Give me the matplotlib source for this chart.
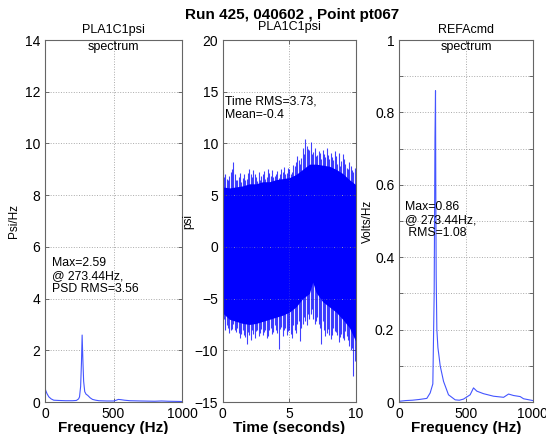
import matplotlib
matplotlib.use("Agg")
import matplotlib.pyplot as plt
import numpy as np

plt.rcParams['font.family'] = ['Liberation Sans', 'DejaVu Sans']

# left panel: PLA1C1psi spectrum (Psi/Hz)
psd1_freq = [0, 5, 15, 28, 45, 64, 100, 150, 200, 229, 245, 252, 260, 266, 271,
             276, 282, 290, 300, 311, 330, 347, 370, 394, 450, 500, 520, 535,
             555, 580, 620, 700, 800, 850, 900, 1000]
psd1_val = [0.56, 0.45, 0.32, 0.2, 0.12, 0.07, 0.06, 0.05, 0.05, 0.06, 0.12, 0.2,
            0.6, 1.5, 2.59, 1.7, 0.8, 0.4, 0.3, 0.26, 0.16, 0.1, 0.07, 0.05,
            0.04, 0.04, 0.07, 0.1, 0.09, 0.07, 0.05, 0.04, 0.03, 0.04, 0.03, 0.02]

# right panel: REFAcmd spectrum (Volts/Hz)
psd2_freq = [0, 50, 100, 150, 207, 232, 252, 262, 268, 272, 274, 277, 282, 290,
             297, 307, 332, 369, 419, 450, 481, 531, 556, 581, 631, 706, 781,
             818, 855, 905, 930, 1000]
psd2_val = [0.002, 0.004, 0.005, 0.007, 0.01, 0.025, 0.05, 0.3, 0.73, 0.86, 0.6,
            0.35, 0.2, 0.15, 0.13, 0.1, 0.057, 0.02, 0.006, 0.005, 0.008, 0.02,
            0.039, 0.03, 0.023, 0.016, 0.013, 0.022, 0.018, 0.015, 0.009, 0.004]

# middle panel: PLA1C1psi time history, read as envelopes
t_core = [0, 0.5, 1, 1.5, 2, 2.5, 3, 3.5, 4, 4.5, 5, 5.5, 6, 6.5, 6.75, 7, 7.5,
          8, 8.5, 9, 9.5, 10]
hi_core = [5.8, 5.7, 5.8, 5.9, 6.1, 6.1, 6.3, 6.3, 6.5, 6.6, 6.7, 7.0, 7.5, 8.0,
           8.0, 8.0, 7.9, 7.8, 7.5, 7.1, 6.5, 6.0]
lo_core = [-6.4, -7.0, -7.2, -7.4, -7.5, -7.4, -7.2, -7.0, -6.8, -6.6, -6.3, -5.8,
           -5.0, -4.5, -3.4, -4.4, -5.3, -5.8, -6.3, -7.0, -7.8, -9.2]

t_spk = [0, 0.2, 0.4, 0.6, 0.8, 1.0, 1.2, 1.4, 1.6, 1.8, 2.0, 2.2, 2.4, 2.6, 2.8,
         3.0, 3.2, 3.4, 3.6, 3.8, 4.0, 4.2, 4.4, 4.6, 4.8, 5.0, 5.2, 5.4, 5.6,
         5.8, 6.0, 6.2, 6.4, 6.6, 6.8, 7.0, 7.2, 7.4, 7.6, 7.8, 8.0, 8.2, 8.4,
         8.6, 8.8, 9.0, 9.2, 9.4, 9.6, 9.8, 10.0]
hi_spk = [7.4, 7.0, 6.5, 7.2, 8.2, 6.5, 6.8, 6.3, 7.0, 6.6, 7.5, 6.8, 7.0, 6.4,
          6.5, 7.0, 6.6, 7.5, 6.9, 6.8, 7.0, 6.7, 7.5, 7.7, 7.1, 7.5, 7.2, 7.8,
          8.8, 8.0, 9.6, 10.4, 9.5, 10.1, 9.2, 8.8, 9.3, 8.5, 9.0, 9.6, 8.5,
          8.7, 9.3, 8.0, 7.8, 9.0, 8.0, 7.5, 7.8, 7.2, 6.8]
lo_spk = [-7.5, -8.0, -7.8, -8.0, -7.5, -8.2, -8.3, -8.4, -8.5, -9.4, -8.5, -8.0,
          -8.8, -8.0, -8.3, -8.5, -8.0, -8.6, -7.8, -8.2, -8.0, -9.9, -7.7, -8.0,
          -8.5, -8.0, -8.8, -8.0, -7.5, -9.1, -7.5, -7.2, -6.5, -6.5, -7.0, -7.2,
          -7.5, -9.4, -8.0, -8.3, -8.5, -8.5, -8.1, -8.5, -8.7, -8.8, -8.1, -9.0,
          -10.0, -12.5, -10.0]

t_spk2 = [0.1, 0.3, 0.5, 0.7, 0.9, 1.1, 1.3, 1.5, 1.7, 1.9, 2.1, 2.3, 2.5, 2.7,
          2.9, 3.1, 3.3, 3.5, 3.7, 3.9, 4.1, 4.3, 4.5, 4.7, 4.9, 5.1, 5.3, 5.5,
          5.7, 5.9, 6.1, 6.3, 6.5, 6.7, 6.9, 7.1, 7.3, 7.5, 7.7, 7.9, 8.1, 8.3,
          8.5, 8.7, 8.9, 9.1, 9.3, 9.5, 9.7, 9.9]
hi_spk2 = [6.8, 6.6, 6.9, 7.5, 7.0, 6.5, 7.1, 6.7, 6.5, 7.1, 7.0, 7.4, 6.8, 7.2,
           6.9, 7.3, 6.8, 7.1, 7.4, 6.9, 7.3, 7.0, 7.2, 7.0, 7.6, 7.0, 7.9, 8.2,
           8.4, 8.6, 9.0, 9.8, 9.4, 9.0, 9.6, 8.9, 9.1, 9.4, 8.7, 8.9, 9.1, 8.4,
           8.8, 9.1, 8.3, 8.5, 7.6, 8.2, 7.4, 7.6]
lo_spk2 = [-7.0, -7.6, -8.3, -7.9, -8.0, -7.8, -8.8, -8.0, -8.7, -8.2, -9.0, -8.4,
           -8.1, -8.6, -7.9, -8.2, -8.8, -8.0, -8.4, -7.6, -8.3, -7.9, -8.6, -7.8,
           -8.1, -8.4, -7.6, -8.3, -7.2, -7.8, -6.8, -7.6, -7.0, -6.0, -7.5, -6.8,
           -7.8, -7.2, -8.6, -7.9, -8.9, -7.8, -8.2, -9.2, -8.4, -9.0, -8.6, -9.6,
           -9.8, -11.0]

fig = plt.figure(figsize=(5.46, 4.34), dpi=100)
fig.text(0.535, 0.966, "Run 425, 040602 , Point pt067", ha='center', va='center',
         fontsize=11, fontweight='bold')

H = 0.834
B = 0.0737
ax1 = fig.add_axes([0.0824, B, 0.251, H])
ax2 = fig.add_axes([0.408, B, 0.244, H])
ax3 = fig.add_axes([0.731, B, 0.245, H])

for ax in (ax1, ax2, ax3):
    ax.tick_params(direction='in', length=3, labelsize=10, width=0.6,
                   top=True, right=True, color='#555555')
    for s in ax.spines.values():
        s.set_color('#666666')
        s.set_linewidth(0.8)
    ax.grid(True, linestyle=':', color='#aaaaaa', linewidth=0.7)

# left spectrum
ax1.plot(psd1_freq, psd1_val, color='#4455ff', lw=0.8)
ax1.set_xlim(0, 1000)
ax1.set_ylim(0, 14)
ax1.set_xticks([0, 500, 1000])
ax1.set_yticks(range(0, 15, 2))
ax1.set_xlabel("Frequency (Hz)", fontsize=11, fontweight='bold', labelpad=0)
ax1.set_ylabel("Psi/Hz", fontsize=8.5, labelpad=3)
ax1.text(0.5, 1.028, "PLA1C1psi", transform=ax1.transAxes, ha='center',
         va='center', fontsize=9)
ax1.text(0.5, 0.981, "spectrum", transform=ax1.transAxes, ha='center',
         va='center', fontsize=9)
ax1.text(51, 5.6, "Max=2.59\n@ 273.44Hz,\nPSD RMS=3.56", fontsize=8.8,
         va='top', ha='left', linespacing=1.1)

# time history
ax2.fill_between(t_core, lo_core, hi_core, color='blue', lw=0)
ax2.vlines(t_spk, lo_spk, hi_spk, color='blue', lw=0.8, alpha=0.75)
ax2.vlines(t_spk2, lo_spk2, hi_spk2, color='blue', lw=0.8, alpha=0.75)
ax2.set_xlim(0, 10)
ax2.set_ylim(-15, 20)
ax2.set_xticks([0, 5, 10])
ax2.set_yticks(range(-15, 21, 5))
ax2.set_xlabel("Time (seconds)", fontsize=11, fontweight='bold', labelpad=0)
ax2.set_ylabel("psi", fontsize=8.5, labelpad=0)
ax2.text(0.5, 1.036, "PLA1C1psi", transform=ax2.transAxes, ha='center',
         va='center', fontsize=9)
ax2.text(0.2, 14.6, "Time RMS=3.73,\nMean=-0.4", fontsize=8.8, va='top',
         ha='left', linespacing=1.1)

# right spectrum
ax3.plot(psd2_freq, psd2_val, color='#4455ff', lw=0.8)
ax3.set_xlim(0, 1000)
ax3.set_ylim(0, 1)
ax3.set_xticks([0, 500, 1000])
ax3.set_yticks(np.arange(0, 1.01, 0.1))
ax3.set_yticklabels(["0", "", "0.2", "", "0.4", "", "0.6", "", "0.8", "", "1"])
ax3.set_xlabel("Frequency (Hz)", fontsize=11, fontweight='bold', labelpad=0)
ax3.set_ylabel("Volts/Hz", fontsize=8.5, labelpad=1)
ax3.text(0.5, 1.028, "REFAcmd", transform=ax3.transAxes, ha='center',
         va='center', fontsize=9)
ax3.text(0.5, 0.981, "spectrum", transform=ax3.transAxes, ha='center',
         va='center', fontsize=9)
ax3.text(45, 0.555, "Max=0.86\n@ 273.44Hz,\n RMS=1.08", fontsize=8.8,
         va='top', ha='left', linespacing=1.1)

fig.savefig("out.png", dpi=100)
